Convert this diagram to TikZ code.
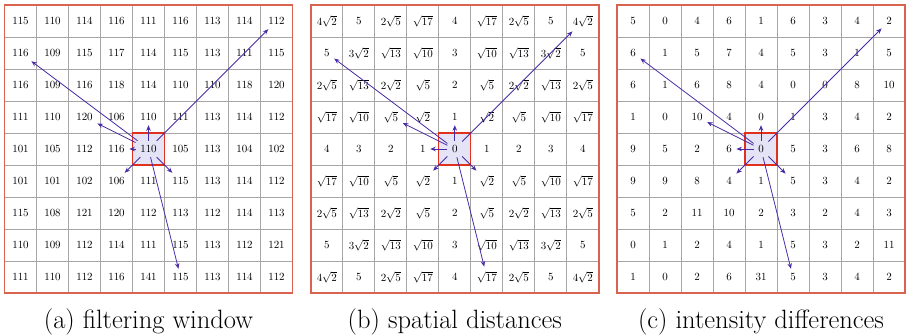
\documentclass[tikz,border=0pt]{standalone}
\usepackage{amsmath}
\usetikzlibrary{arrows.meta}
\definecolor{gridgray}{HTML}{A6A6A6}
\definecolor{outerred}{HTML}{D9634F}
\definecolor{centerred}{HTML}{E0301E}
\definecolor{centerfill}{HTML}{E4E4F6}
\definecolor{arrowblue}{HTML}{4A2BA6}
\tikzset{
  cellnum/.style={inner sep=4.5pt, font=\fontsize{10.9}{13}\selectfont},
  gridline/.style={draw=gridgray, line width=1pt},
  outerframe/.style={draw=outerred, line width=1.8pt},
  centercell/.style={fill=centerfill, draw=centerred, line width=1.3pt},
  ptr/.style={draw=arrowblue, line width=0.8pt, -{Stealth[length=5.5pt,width=4.5pt]}},
  captiontext/.style={font=\fontsize{26.5}{31}\selectfont, anchor=base},
}
\newcommand\drawgrid[4]{%
  \foreach \i in {1,...,8} {
    \draw[gridline] ({#2+\i*32},5) -- ({#2+\i*32},293);
    \draw[gridline] (#2,{5+\i*32}) -- ({#2+288},{5+\i*32});
  }
  \draw[centercell] ({#2+128},133) rectangle ({#2+160},165);
  \draw[outerframe] (#2,5) rectangle ({#2+288},293);
  \foreach \row [count=\r from 0] in {#3} {
    \foreach \v [count=\c from 0] in \row {
      \node[cellnum] (#1-\r-\c) at ({#2+(\c+0.5)*32},{5+(\r+0.5)*32}) {$\v$};
    }
  }
  \foreach \t in {3-4,4-3,5-3,5-5,3-2,1-0,0-8,8-5} {
    \draw[ptr] (#1-4-4) -- (#1-\t);
  }
  \node[captiontext] (#1-cap) at ({#2+144},328) {#4};
}
\begin{document}
\begin{tikzpicture}[x=1pt,y=-1pt]
\useasboundingbox (0,0) rectangle (906,335);
\drawgrid{a}{4.5}{
 {115,110,114,116,111,116,113,114,112},
 {116,109,115,117,114,115,113,111,115},
 {116,109,116,118,114,110,110,118,120},
 {111,110,120,106,110,111,113,114,112},
 {101,105,112,116,110,105,113,104,102},
 {101,101,102,106,111,115,113,114,112},
 {115,108,121,120,112,113,112,114,113},
 {110,109,112,114,111,115,113,112,121},
 {111,110,112,116,141,115,113,114,112}}{(a) filtering window}
\drawgrid{b}{310.8}{
 {4\sqrt{2},5,2\sqrt{5},\sqrt{17},4,\sqrt{17},2\sqrt{5},5,4\sqrt{2}},
 {5,3\sqrt{2},\sqrt{13},\sqrt{10},3,\sqrt{10},\sqrt{13},3\sqrt{2},5},
 {2\sqrt{5},\sqrt{13},2\sqrt{2},\sqrt{5},2,\sqrt{5},2\sqrt{2},\sqrt{13},2\sqrt{5}},
 {\sqrt{17},\sqrt{10},\sqrt{5},\sqrt{2},1,\sqrt{2},\sqrt{5},\sqrt{10},\sqrt{17}},
 {4,3,2,1,0,1,2,3,4},
 {\sqrt{17},\sqrt{10},\sqrt{5},\sqrt{2},1,\sqrt{2},\sqrt{5},\sqrt{10},\sqrt{17}},
 {2\sqrt{5},\sqrt{13},2\sqrt{2},\sqrt{5},2,\sqrt{5},2\sqrt{2},\sqrt{13},2\sqrt{5}},
 {5,3\sqrt{2},\sqrt{13},\sqrt{10},3,\sqrt{10},\sqrt{13},3\sqrt{2},5},
 {4\sqrt{2},5,2\sqrt{5},\sqrt{17},4,\sqrt{17},2\sqrt{5},5,4\sqrt{2}}}{(b) spatial distances}
\drawgrid{c}{617}{
 {5,0,4,6,1,6,3,4,2},
 {6,1,5,7,4,5,3,1,5},
 {6,1,6,8,4,0,0,8,10},
 {1,0,10,4,0,1,3,4,2},
 {9,5,2,6,0,5,3,6,8},
 {9,9,8,4,1,5,3,4,2},
 {5,2,11,10,2,3,2,4,3},
 {0,1,2,4,1,5,3,2,11},
 {1,0,2,6,31,5,3,4,2}}{(c) intensity differences}
\end{tikzpicture}
\end{document}
